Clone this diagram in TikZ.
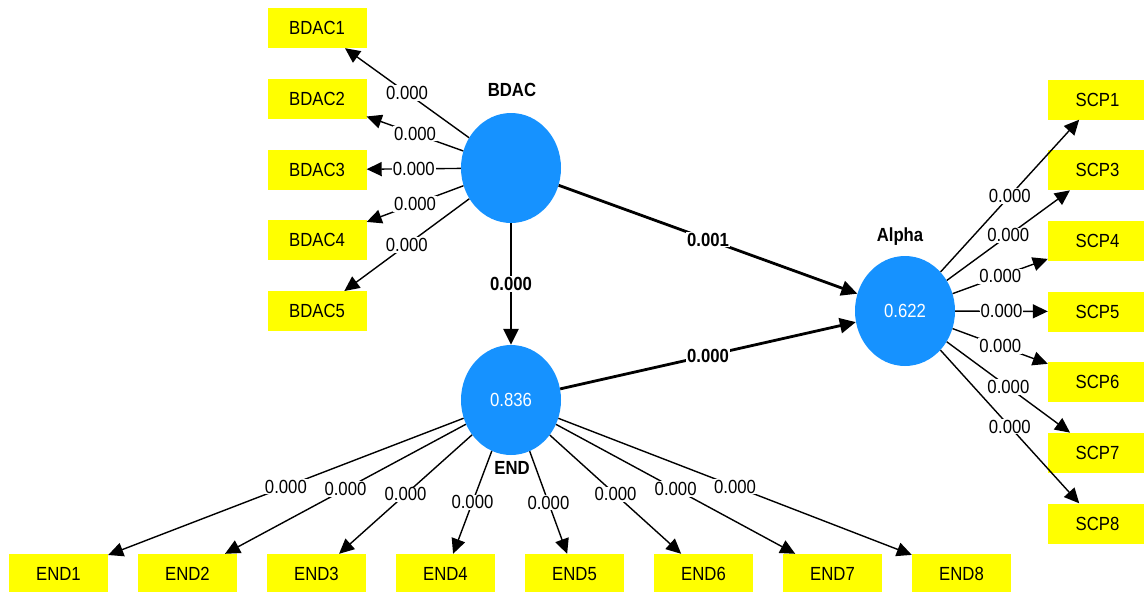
\documentclass[tikz,border=0pt]{standalone}
\usepackage{fontspec}
\setmainfont[FakeStretch=0.88]{Liberation Sans}
\usetikzlibrary{arrows.meta,shapes.geometric}

\definecolor{lvblue}{RGB}{22,146,255}
\definecolor{mvyellow}{RGB}{255,255,0}

\tikzset{
  latent/.style = {ellipse, fill=lvblue, minimum width=100pt, minimum height=110pt,
    inner sep=0pt, text=white, font=\fontsize{19}{21}\selectfont},
  indicator/.style = {rectangle, fill=mvyellow, minimum width=99pt, minimum height=40pt,
    inner sep=0pt, font=\fontsize{19}{21}\selectfont},
  loading/.style = {line width=1.4pt, -{Triangle[length=15pt,width=14pt]}},
  pathc/.style = {line width=2.8pt, -{Triangle[length=16pt,width=15pt]}},
  weight/.style = {fill=white, inner sep=1pt, font=\fontsize{19}{21}\selectfont},
  bweight/.style = {weight, font=\fontsize{19}{21}\selectfont\bfseries},
  lvlabel/.style = {fill=white, inner sep=1pt, font=\fontsize{19}{21}\selectfont\bfseries},
}

\begin{document}
\begin{tikzpicture}[x=1pt, y=-1pt]
    \useasboundingbox (0,0) rectangle (1144,592);
    % latent variables
    \node[latent] (bdac) at (511,168) {};
    \node[latent] (endc) at (511,400) {0.836};
    \node[latent] (alpha) at (905,311) {0.622};
    % indicators
    \foreach \i in {1,...,5}
      \node[indicator] (bdac\i) at (317, {28+70.8*(\i-1)}) {BDAC\i};
    \foreach \s [count=\j from 0] in {1,3,4,5,6,7,8}
      \node[indicator] (scp\s) at (1097.5, {99.5+70.67*\j}) {SCP\s};
    \foreach \i in {1,...,8}
      \node[indicator] (end\i) at ({58.5+129*(\i-1)}, 574) {END\i};
    % loadings
    \foreach \i in {1,...,5}
      \draw[loading] (bdac) -- node[weight] {0.000} (bdac\i);
    \foreach \s in {1,3,4,5,6,7,8}
      \draw[loading] (alpha) -- node[weight] {0.000} (scp\s);
    \foreach \i in {1,...,8}
      \draw[loading] (endc) -- node[weight] {0.000} (end\i);
    % inner model
    \draw[pathc] (bdac) -- node[bweight] {0.000} (endc);
    \draw[pathc] (bdac) -- node[bweight] {0.001} (alpha);
    \draw[pathc] (endc) -- node[bweight] {0.000} (alpha);
    % names
    \node[lvlabel] (lbdac) at (512,90) {BDAC};
    \node[lvlabel] (lendc) at (512,468) {END};
    \node[lvlabel] (lalpha) at (900,237) {Alpha};
\end{tikzpicture}
\end{document}
